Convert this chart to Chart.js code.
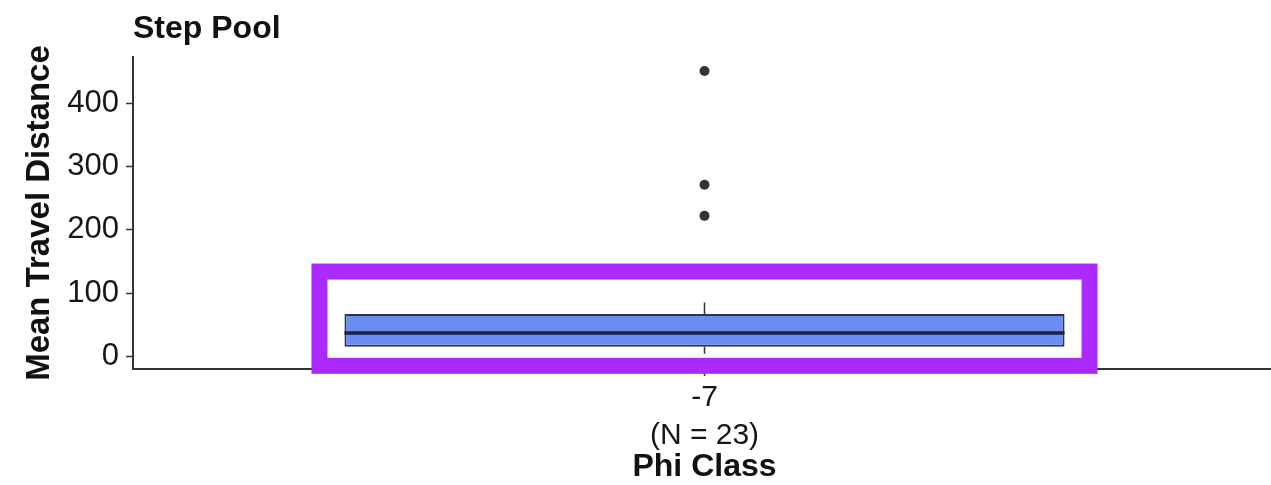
<!DOCTYPE html>
<html>
<head>
<meta charset="utf-8">
<script src="https://cdn.jsdelivr.net/npm/chart.js@4/dist/chart.umd.min.js"></script>
<style>
    html, body { margin: 0; padding: 0; background: #fff; overflow: hidden; }
    #wrap { width: 1271px; height: 485px; overflow: hidden; }
</style>
</head>
<body>
<div id="wrap"><canvas id="chart" width="1281" height="485"></canvas></div>
<script>
// ── Step pool travel distance box plot ──────────────────────────

const CATEGORIES = ['-7'];
const COUNTS = [23];
const WHISKER_LOW = [4];
const Q1 = [15];
const MEDIAN = [37];
const Q3 = [67];
const WHISKER_HIGH = [85];
const OUTLIERS = [[451, 271, 222]];
const Y_TICKS = [0, 100, 200, 300, 400];
const Y_RANGE = [-20, 473];
const HIGHLIGHT_Y = [-15, 134];   // value range framed in purple

const FONT = 'Liberation Sans, Arial, sans-serif';
const INK = '#161616';
const AXIS = '#333333';
const BOX_FILL = '#6a8df3';
const BOX_EDGE = '#2c3450';
const PURPLE = '#ab2bff';

// Whiskers, medians, the purple frame and the panel title
const boxParts = {
    id: 'boxParts',
    beforeDatasetsDraw(chart) {
        const ctx = chart.ctx;
        const y = chart.scales.y;
        const bars = chart.getDatasetMeta(0).data;
        ctx.save();
        ctx.strokeStyle = AXIS;
        ctx.lineWidth = 1.5;
        bars.forEach((bar, i) => {
            ctx.beginPath();
            ctx.moveTo(bar.x, y.getPixelForValue(WHISKER_HIGH[i]));
            ctx.lineTo(bar.x, y.getPixelForValue(Q3[i]));
            ctx.moveTo(bar.x, y.getPixelForValue(Q1[i]));
            ctx.lineTo(bar.x, y.getPixelForValue(WHISKER_LOW[i]));
            ctx.stroke();
        });
        ctx.restore();
    },
    afterDatasetsDraw(chart) {
        const ctx = chart.ctx;
        const y = chart.scales.y;
        const bars = chart.getDatasetMeta(0).data;
        ctx.save();
        ctx.strokeStyle = '#1b2440';
        ctx.lineWidth = 3.5;
        bars.forEach((bar, i) => {
            const py = y.getPixelForValue(MEDIAN[i]);
            ctx.beginPath();
            ctx.moveTo(bar.x - bar.width / 2, py);
            ctx.lineTo(bar.x + bar.width / 2, py);
            ctx.stroke();
        });
        ctx.restore();
    },
    afterDraw(chart) {
        const ctx = chart.ctx;
        const y = chart.scales.y;
        const bar = chart.getDatasetMeta(0).data[0];
        const top = y.getPixelForValue(HIGHLIGHT_Y[1]);
        const bottom = y.getPixelForValue(HIGHLIGHT_Y[0]);
        const half = bar.width / 2 + 25;
        ctx.save();
        ctx.strokeStyle = PURPLE;
        ctx.lineWidth = 16;
        ctx.strokeRect(bar.x - half, top, half * 2, bottom - top);

        ctx.fillStyle = '#111';
        ctx.font = 'bold 32px ' + FONT;
        ctx.textBaseline = 'alphabetic';
        ctx.textAlign = 'left';
        ctx.fillText('Step Pool', chart.chartArea.left, 38);
        ctx.restore();
    }
};

const labels = CATEGORIES.map((c, i) => [c, `(N = ${COUNTS[i]})`]);
const outlierPoints = OUTLIERS.flatMap((vals, i) => vals.map(v => ({ x: i, y: v })));

new Chart(document.getElementById('chart').getContext('2d'), {
    type: 'bar',
    data: {
        labels: labels,
        datasets: [{
            type: 'bar',
            data: Q1.map((q, i) => [q, Q3[i]]),
            backgroundColor: BOX_FILL,
            borderColor: BOX_EDGE,
            borderWidth: 2,
            borderSkipped: false,
            barPercentage: 0.63,
            categoryPercentage: 1,
            order: 2
        }, {
            type: 'line',
            data: outlierPoints,
            showLine: false,
            pointRadius: 5,
            pointBackgroundColor: '#333',
            pointBorderWidth: 0,
            order: 1
        }]
    },
    options: {
        responsive: false,
        animation: false,
        layout: { padding: { top: 57, right: 0, bottom: 0, left: 0 } },
        plugins: {
            legend: { display: false },
            tooltip: { enabled: false }
        },
        scales: {
            x: {
                offset: true,
                afterFit: s => { s.height = 116; },
                border: { color: AXIS, width: 2 },
                grid: { drawOnChartArea: false, offset: false, tickLength: 7, tickWidth: 1.5, tickColor: AXIS },
                ticks: { color: INK, padding: 3, font: { family: FONT, size: 30, lineHeight: 1.26 } },
                title: {
                    display: true,
                    text: 'Phi Class',
                    color: '#111',
                    padding: { top: 0, bottom: -1 },
                    font: { family: FONT, size: 32, weight: 'bold' }
                }
            },
            y: {
                min: Y_RANGE[0],
                max: Y_RANGE[1],
                afterBuildTicks: s => { s.ticks = Y_TICKS.map(v => ({ value: v })); },
                afterFit: s => { s.width = 133; },
                border: { color: AXIS, width: 2 },
                grid: { drawOnChartArea: false, tickLength: 7, tickWidth: 1.5, tickColor: AXIS },
                ticks: { color: INK, padding: 7, font: { family: FONT, size: 31 } },
                title: {
                    display: true,
                    text: 'Mean Travel Distance',
                    color: '#111',
                    padding: { top: 20, bottom: 0 },
                    font: { family: FONT, size: 33, weight: 'bold' }
                }
            }
        }
    },
    plugins: [boxParts]
});
</script>
</body>
</html>
